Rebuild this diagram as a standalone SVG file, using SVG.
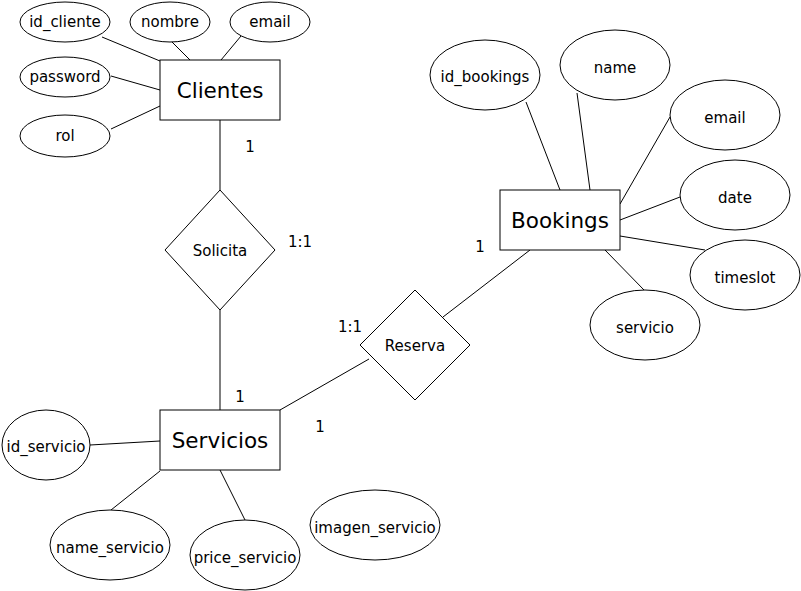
<svg xmlns="http://www.w3.org/2000/svg" width="801" height="591" viewBox="0 0 801 591">
<style>
.s{fill:#fff;stroke:#000;stroke-width:1}
.l{stroke:#000;stroke-width:1;fill:none}
text{font-family:"DejaVu Sans",Verdana,sans-serif;fill:#000;text-anchor:middle;dominant-baseline:central}
.a{font-size:15px}
.e{font-size:21.5px}
</style>
<rect width="801" height="591" fill="#fff"/>
<g id="connectors">
<line class="l" x1="102" y1="37" x2="160" y2="61"/>
<line class="l" x1="170" y1="40" x2="190" y2="60"/>
<line class="l" x1="241" y1="36" x2="221" y2="60"/>
<line class="l" x1="111" y1="76" x2="160" y2="90"/>
<line class="l" x1="111" y1="129" x2="160" y2="106"/>
<line class="l" x1="220" y1="120" x2="220" y2="190"/>
<line class="l" x1="220" y1="310" x2="220" y2="410"/>
<line class="l" x1="280" y1="410" x2="369" y2="359"/>
<line class="l" x1="443" y1="317" x2="530" y2="250"/>
<line class="l" x1="526" y1="102" x2="560" y2="190"/>
<line class="l" x1="577" y1="93" x2="590" y2="190"/>
<line class="l" x1="670" y1="117" x2="620" y2="204"/>
<line class="l" x1="680" y1="197" x2="620" y2="220"/>
<line class="l" x1="705" y1="250" x2="620" y2="236"/>
<line class="l" x1="605" y1="250" x2="644" y2="290"/>
<line class="l" x1="90" y1="445" x2="160" y2="441"/>
<line class="l" x1="111" y1="510" x2="160" y2="471"/>
<line class="l" x1="220" y1="470" x2="245" y2="520"/>
<text class="a" x="250" y="147">1</text>
<text class="a" x="300" y="242">1:1</text>
<text class="a" x="240" y="397">1</text>
<text class="a" x="350" y="327">1:1</text>
<text class="a" x="320" y="427">1</text>
<text class="a" x="480" y="247">1</text>
</g>
<g id="clientes"><rect class="s" x="160" y="60" width="120" height="60"/><text class="e" x="220" y="90">Clientes</text></g>
<g id="id_cliente"><ellipse class="s" cx="65" cy="22" rx="45" ry="20"/><text class="a" x="65" y="22">id_cliente</text></g>
<g id="nombre"><ellipse class="s" cx="170" cy="22" rx="40" ry="20"/><text class="a" x="170" y="22">nombre</text></g>
<g id="email_c"><ellipse class="s" cx="270" cy="22" rx="40" ry="20"/><text class="a" x="270" y="22">email</text></g>
<g id="password"><ellipse class="s" cx="65" cy="77" rx="45" ry="20"/><text class="a" x="65" y="77">password</text></g>
<g id="rol"><ellipse class="s" cx="65" cy="136" rx="45" ry="21"/><text class="a" x="65" y="136">rol</text></g>
<g id="solicita"><polygon class="s" points="220,190 275,250 220,310 165,250"/><text class="a" x="220" y="251">Solicita</text></g>
<g id="servicios"><rect class="s" x="160" y="410" width="120" height="60"/><text class="e" x="220" y="440">Servicios</text></g>
<g id="reserva"><polygon class="s" points="415,290 470,345 415,400 360,345"/><text class="a" x="415" y="346">Reserva</text></g>
<g id="bookings"><rect class="s" x="500" y="190" width="120" height="60"/><text class="e" x="560" y="220">Bookings</text></g>
<g id="id_bookings"><ellipse class="s" cx="485" cy="75" rx="55" ry="35"/><text class="a" x="485" y="77">id_bookings</text></g>
<g id="name"><ellipse class="s" cx="615" cy="65" rx="55" ry="35"/><text class="a" x="615" y="68">name</text></g>
<g id="email_b"><ellipse class="s" cx="725" cy="115" rx="55" ry="35"/><text class="a" x="725" y="118">email</text></g>
<g id="date"><ellipse class="s" cx="735" cy="195" rx="55" ry="35"/><text class="a" x="735" y="198">date</text></g>
<g id="timeslot"><ellipse class="s" cx="745" cy="275" rx="55" ry="35"/><text class="a" x="745" y="278">timeslot</text></g>
<g id="servicio"><ellipse class="s" cx="645" cy="325" rx="55" ry="35"/><text class="a" x="645" y="328">servicio</text></g>
<g id="id_servicio"><ellipse class="s" cx="46" cy="445" rx="44" ry="35"/><text class="a" x="46" y="447">id_servicio</text></g>
<g id="name_servicio"><ellipse class="s" cx="110" cy="545" rx="60" ry="35"/><text class="a" x="110" y="548">name_servicio</text></g>
<g id="price_servicio"><ellipse class="s" cx="245" cy="555" rx="55" ry="35"/><text class="a" x="245" y="558">price_servicio</text></g>
<g id="imagen_servicio"><ellipse class="s" cx="375" cy="525" rx="65" ry="35"/><text class="a" x="375" y="528">imagen_servicio</text></g>
</svg>
